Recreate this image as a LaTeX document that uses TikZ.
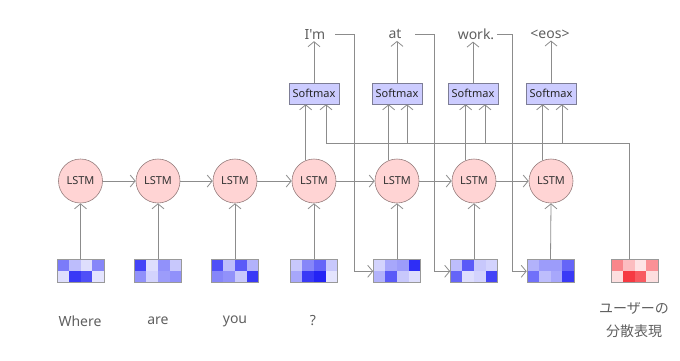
\documentclass[tikz,border=0pt]{standalone}
\usepackage{fontspec}
\setmainfont{Noto Sans}
\newfontfamily\wordfont{Noto Sans}[Ligatures=TeXOff]
\newfontfamily\jpfont{Noto Sans CJK JP}
\usetikzlibrary{arrows.meta}
\definecolor{linegray}{RGB}{140,140,140}
\definecolor{wordgray}{RGB}{95,95,95}
\definecolor{lstmfill}{RGB}{255,212,212}
\definecolor{lstmdraw}{RGB}{150,125,125}
\definecolor{smfill}{RGB}{204,204,255}
\definecolor{smdraw}{RGB}{125,125,150}
\definecolor{embblue}{RGB}{35,35,245}
\definecolor{embred}{RGB}{245,35,45}
\newcommand\embgrid[4]{%
  \foreach \v [count=\i from 0] in {#4} {%
    \pgfmathsetmacro\gcol{mod(\i,4)}%
    \pgfmathsetmacro\grow{int(\i/4)}%
    \fill[#3!\v!white] ({#2-23.5+\gcol*11.75},{259.5+\grow*11.5}) rectangle ++(11.75,11.5);
  }%
  \node[gridbox] (#1) at (#2,271.25) {};%
}
\begin{document}
\begin{tikzpicture}[x=1pt,y=-1pt,
  arr/.style={draw=linegray,line width=0.8pt,-{Straight Barb[length=5pt,width=12pt]}},
  ln/.style={draw=linegray,line width=0.8pt},
  lstm/.style={circle,minimum size=44pt,inner sep=0pt,fill=lstmfill,draw=lstmdraw,line width=0.6pt,
    font=\fontsize{11}{13}\selectfont,text=black!80},
  smax/.style={rectangle,minimum width=50pt,minimum height=21pt,inner sep=0pt,fill=smfill,draw=smdraw,line width=0.6pt,
    font=\fontsize{11}{13}\selectfont,text=black!85},
  gridbox/.style={rectangle,draw=black!40,line width=0.6pt,minimum width=47pt,minimum height=23pt,inner sep=0pt},
  word/.style={font=\wordfont\fontsize{14}{16}\selectfont,text=wordgray,inner sep=2pt},
  jword/.style={font=\jpfont\fontsize{14}{16}\selectfont,text=wordgray,inner sep=1pt}]
\useasboundingbox (0,0) rectangle (680,360);

% embeddings
\embgrid{g1}{80.5}{embblue}{60,30,15,55,15,90,80,12}
\embgrid{g2}{158}{embblue}{85,15,50,25,50,20,45,50}
\embgrid{g3}{235}{embblue}{80,30,75,35,55,50,25,90}
\embgrid{g4}{314}{embblue}{25,55,70,25,40,90,100,12}
\embgrid{g5}{397}{embblue}{20,40,45,95,35,75,25,15}
\embgrid{g6}{474}{embblue}{30,75,25,20,70,15,20,85}
\embgrid{g7}{550.5}{embblue}{35,45,45,70,65,30,40,90}
\embgrid{g8}{634.5}{embred}{55,30,12,50,15,90,75,15}

% LSTM cells
\node[lstm] (l1) at (80.5,181) {LSTM};
\node[lstm] (l2) at (158,181) {LSTM};
\node[lstm] (l3) at (235,181) {LSTM};
\node[lstm] (l4) at (314,181) {LSTM};
\node[lstm] (l5) at (397,181) {LSTM};
\node[lstm] (l6) at (474,181) {LSTM};
\node[lstm] (l7) at (551,181) {LSTM};

% softmax
\node[smax] (s1) at (314,93.5) {Softmax};
\node[smax] (s2) at (397,93.5) {Softmax};
\node[smax] (s3) at (473,93.5) {Softmax};
\node[smax] (s4) at (551,93.5) {Softmax};

% output words
\node[word] (w1) at (315,34) {I'm};
\node[word] (w2) at (395,34) {at};
\node[word] (w3) at (476,34) {work.};
\node[word] (w4) at (550,34) {<eos>};

% input words
\node[word] (i1) at (80,321) {Where};
\node[word] (i2) at (158,321) {are};
\node[word] (i3) at (235,321) {you};
\node[word] (i4) at (313,321) {?};
\node[jword] (j1) at (634,308) {ユーザーの};
\node[jword] (j2) at (634,331) {分散表現};

% recurrent arrows
\draw[arr] (l1) -- (l2);
\draw[arr] (l2) -- (l3);
\draw[arr] (l3) -- (l4);
\draw[arr] (l4) -- (l5);
\draw[arr] (l5) -- (l6);
\draw[arr] (l6) -- (l7);

% embedding to LSTM
\foreach \k in {1,...,7} {\draw[arr] (g\k.north) -- (l\k.south);}

% LSTM to softmax
\draw[arr] (l4.112) -- (l4.112 |- s1.south);
\draw[arr] (l5.112) -- (l5.112 |- s2.south);
\draw[arr] (l6.112) -- (l6.112 |- s3.south);
\draw[arr] (l7.112) -- (l7.112 |- s4.south);

% softmax to words
\draw[arr] (s1.north) -- (s1.north |- w1.south);
\draw[arr] (s2.north) -- (s2.north |- w2.south);
\draw[arr] (s3.north) -- (s3.north |- w3.south);
\draw[arr] (s4.north) -- (s4.north |- w4.south);

% user representation
\coordinate (u0) at ([xshift=-5pt]g8.north);
\coordinate (ubar) at (629.5,143);
\coordinate (s1in) at ([xshift=12pt]s1.south);
\coordinate (s2in) at ([xshift=10pt]s2.south);
\coordinate (s3in) at ([xshift=12pt]s3.south);
\coordinate (s4in) at ([xshift=11pt]s4.south);
\draw[arr] (u0) -- (ubar) -| (s1in);
\draw[arr] (s2in |- ubar) -- (s2in);
\draw[arr] (s3in |- ubar) -- (s3in);
\draw[arr] (s4in |- ubar) -- (s4in);

% feedback of generated words
\coordinate (f1) at (354,0);
\coordinate (f2) at (434.5,0);
\coordinate (f3) at (512,0);
\draw[arr] ([xshift=20pt]w1.center) -| (f1 |- g5.west) -- (g5.west);
\draw[arr] ([xshift=20pt]w2.center) -| (f2 |- g6.west) -- (g6.west);
\draw[arr] ([xshift=21pt]w3.center) -| (f3 |- g7.west) -- (g7.west);
\end{tikzpicture}
\end{document}
